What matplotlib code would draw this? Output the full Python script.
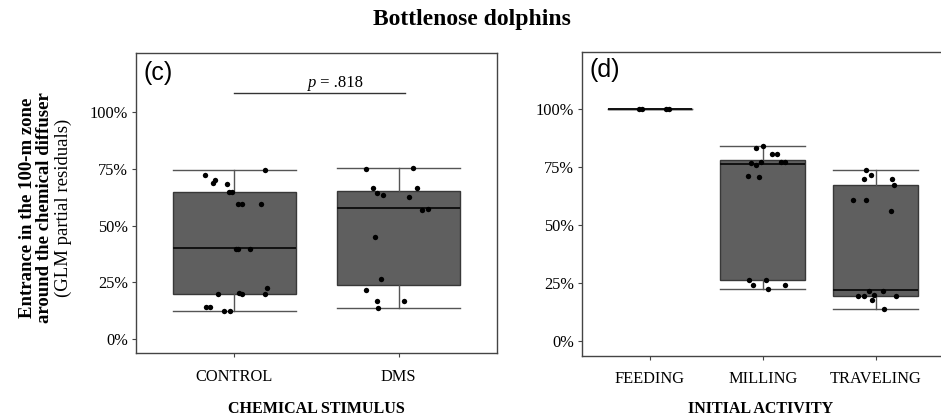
import matplotlib
matplotlib.use("Agg")
import matplotlib.pyplot as plt
import numpy as np

# ---------------- data ----------------
stim_categories = ["CONTROL", "DMS"]
# box statistics
stim_whislo = [0.123, 0.138]
stim_q1 = [0.201, 0.239]
stim_med = [0.400, 0.577]
stim_q3 = [0.648, 0.655]
stim_whishi = [0.746, 0.753]

control_vals = [0.746, 0.725, 0.703, 0.690, 0.683, 0.649, 0.649, 0.598, 0.598, 0.598,
                0.398, 0.398, 0.398, 0.201, 0.203, 0.201, 0.225, 0.201, 0.140, 0.140,
                0.123, 0.123]
control_jit = [0.184, -0.18, -0.121, -0.129, -0.043, -0.036, -0.014, 0.024, 0.043, 0.162,
               0.010, 0.020, 0.097, -0.099, 0.026, 0.047, 0.198, 0.184, -0.172, -0.150,
               -0.061, -0.026]
dms_vals = [0.750, 0.753, 0.668, 0.645, 0.634, 0.668, 0.626, 0.571, 0.576, 0.452,
            0.266, 0.216, 0.170, 0.170, 0.138]
dms_jit = [-0.199, 0.089, -0.154, -0.130, -0.097, 0.111, 0.061, 0.143, 0.180, -0.144,
           -0.107, -0.199, -0.130, 0.032, -0.126]

act_categories = ["FEEDING", "MILLING", "TRAVELING"]
act_whislo = [1.0, 0.225, 0.138]
act_q1 = [1.0, 0.266, 0.195]
act_med = [1.0, 0.763, 0.220]
act_q3 = [1.0, 0.779, 0.674]
act_whishi = [1.0, 0.842, 0.736]

feeding_vals = [1.0, 1.0, 1.0, 1.0]
feeding_jit = [-0.10, -0.069, 0.143, 0.166]
milling_vals = [0.842, 0.831, 0.805, 0.805, 0.766, 0.771, 0.758, 0.771, 0.771, 0.712,
                0.707, 0.264, 0.264, 0.241, 0.225, 0.241]
milling_jit = [0.003, -0.057, 0.08, 0.124, -0.103, -0.015, -0.057, 0.162, 0.197, -0.130,
               -0.035, -0.119, 0.029, -0.083, 0.044, 0.200]
traveling_vals = [0.736, 0.716, 0.697, 0.697, 0.673, 0.608, 0.608, 0.563, 0.218, 0.218,
                  0.200, 0.195, 0.195, 0.195, 0.180, 0.138]
traveling_jit = [-0.084, -0.043, -0.104, 0.147, 0.164, -0.199, -0.084, 0.137, -0.058, 0.064,
                 -0.010, -0.158, -0.099, 0.184, -0.028, 0.075]

yticks = [0, 0.25, 0.5, 0.75, 1.0]
ytick_labels = ["0%", "25%", "50%", "75%", "100%"]
p_label = ".818"

# ---------------- styling ----------------
SERIF = ["Liberation Serif", "DejaVu Serif"]
SANS = ["Liberation Sans", "DejaVu Sans"]
plt.rcParams["font.family"] = SERIF
BOX_FC = "#5f5f5f"
EDGE = "#383838"
WHISK = "#555555"
SPINE = "#444444"

fig = plt.figure(figsize=(9.41, 4.2), dpi=100)
axL = fig.add_axes([136 / 941, 1 - 353.3 / 420, (497 - 136) / 941, 300 / 420])
axR = fig.add_axes([582.3 / 941, 1 - 356 / 420, (943.2 - 582.3) / 941, 304.3 / 420])


def draw_boxes(ax, cats, wlo, q1, med, q3, whi):
    stats = []
    for i in range(len(cats)):
        stats.append(dict(whislo=wlo[i], q1=q1[i], med=med[i], q3=q3[i], whishi=whi[i],
                          fliers=[], label=cats[i]))
    pos = np.arange(1, len(cats) + 1)
    ax.bxp(stats, positions=pos, widths=0.75, capwidths=0.75, patch_artist=True,
           showfliers=False,
           boxprops=dict(facecolor=BOX_FC, edgecolor=EDGE, linewidth=1.0),
           medianprops=dict(color="#111111", linewidth=1.4),
           whiskerprops=dict(color=WHISK, linewidth=1.0),
           capprops=dict(color=WHISK, linewidth=1.0))
    return pos


def style_axes(ax, cats, ylim):
    ax.set_xlim(0.4, len(cats) + 0.6)
    ax.set_ylim(*ylim)
    ax.set_xticks(np.arange(1, len(cats) + 1))
    ax.set_xticklabels(cats, fontsize=11.8)
    ax.set_yticks(yticks)
    ax.set_yticklabels(ytick_labels, fontsize=11.8)
    ax.tick_params(direction="out", length=3, width=0.8, color=SPINE)
    ax.tick_params(axis="x", pad=8)
    ax.tick_params(axis="y", pad=3)
    for s in ax.spines.values():
        s.set_color(SPINE)
        s.set_linewidth(1.0)


# left panel
pos = draw_boxes(axL, stim_categories, stim_whislo, stim_q1, stim_med, stim_q3, stim_whishi)
for p, vals, jit in zip(pos, [control_vals, dms_vals], [control_jit, dms_jit]):
    axL.scatter(p + np.array(jit), vals, s=15, color="black", zorder=5, linewidths=0)
style_axes(axL, stim_categories, (-0.062, 1.26))
axL.plot([1, 2.04], [1.085, 1.085], color="#333333", linewidth=1.0)
axL.text(1.5, 1.11, "p", style="italic", ha="right", va="baseline", fontsize=12)
axL.text(1.5, 1.11, " = " + p_label, ha="left", va="baseline", fontsize=12)
axL.text(0.02, 0.975, "(c)", transform=axL.transAxes, fontsize=18, family=SANS,
         ha="left", va="top")

# right panel
pos = draw_boxes(axR, act_categories, act_whislo, act_q1, act_med, act_q3, act_whishi)
for p, vals, jit in zip(pos, [feeding_vals, milling_vals, traveling_vals],
                        [feeding_jit, milling_jit, traveling_jit]):
    axR.scatter(p + np.array(jit), vals, s=15, color="black", zorder=5, linewidths=0)
style_axes(axR, act_categories, (-0.063, 1.247))
axR.text(0.02, 0.98, "(d)", transform=axR.transAxes, fontsize=18, family=SANS,
         ha="left", va="top")

# x-axis titles
fig.text(316.5 / 941, 1 - 409 / 420, "CHEMICAL STIMULUS", fontsize=11.5, fontweight="bold",
         ha="center", va="center")
fig.text(761 / 941, 1 - 409 / 420, "INITIAL ACTIVITY", fontsize=11.5, fontweight="bold",
         ha="center", va="center")

# y-axis label (two bold lines + normal line)
yc = 1 - 208 / 420
fig.text(28 / 941, yc, "Entrance in the 100-m zone", rotation=90, fontsize=13.5,
         fontweight="bold", ha="center", va="center")
fig.text(45 / 941, yc, "around the chemical diffuser", rotation=90, fontsize=13.5,
         fontweight="bold", ha="center", va="center")
fig.text(63 / 941, yc, "(GLM partial residuals)", rotation=90, fontsize=13.5,
         ha="center", va="center")

fig.text(472 / 941, 1 - 19 / 420, "Bottlenose dolphins", fontsize=17, fontweight="bold",
         ha="center", va="center")

fig.savefig("out.png", dpi=100)
